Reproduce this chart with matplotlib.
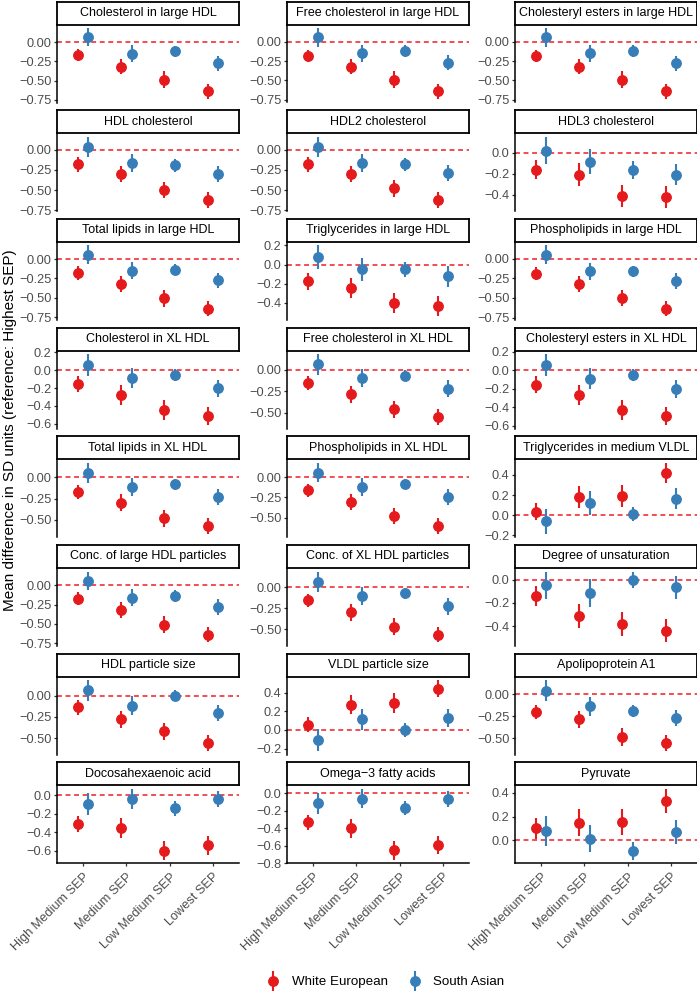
import matplotlib
matplotlib.use("Agg")
import matplotlib.pyplot as plt
import numpy as np
from matplotlib.lines import Line2D
from matplotlib.legend_handler import HandlerTuple
from matplotlib.ticker import MultipleLocator, FuncFormatter

plt.rcParams['font.family'] = ['Liberation Sans', 'DejaVu Sans']

categories = ["High Medium SEP", "Medium SEP", "Low Medium SEP", "Lowest SEP"]
groups = ["White European", "South Asian"]

titles = [
    "Cholesterol in large HDL", "Free cholesterol in large HDL", "Cholesteryl esters in large HDL",
    "HDL cholesterol", "HDL2 cholesterol", "HDL3 cholesterol",
    "Total lipids in large HDL", "Triglycerides in large HDL", "Phospholipids in large HDL",
    "Cholesterol in XL HDL", "Free cholesterol in XL HDL", "Cholesteryl esters in XL HDL",
    "Total lipids in XL HDL", "Phospholipids in XL HDL", "Triglycerides in medium VLDL",
    "Conc. of large HDL particles", "Conc. of XL HDL particles", "Degree of unsaturation",
    "HDL particle size", "VLDL particle size", "Apolipoprotein A1",
    "Docosahexaenoic acid", "Omega\u22123 fatty acids", "Pyruvate",
]

white_european_mean = [
    [-0.17, -0.32, -0.49, -0.64], [-0.18, -0.32, -0.49, -0.64], [-0.18, -0.32, -0.49, -0.64],
    [-0.18, -0.30, -0.50, -0.62], [-0.18, -0.30, -0.48, -0.62], [-0.16, -0.21, -0.41, -0.42],
    [-0.185, -0.32, -0.505, -0.64], [-0.175, -0.245, -0.40, -0.435], [-0.19, -0.32, -0.505, -0.64],
    [-0.15, -0.275, -0.445, -0.515], [-0.155, -0.285, -0.46, -0.55], [-0.155, -0.265, -0.43, -0.495],
    [-0.175, -0.30, -0.48, -0.57], [-0.16, -0.31, -0.48, -0.605], [0.035, 0.18, 0.19, 0.42],
    [-0.17, -0.32, -0.51, -0.64], [-0.155, -0.30, -0.47, -0.565], [-0.14, -0.31, -0.38, -0.44],
    [-0.137, -0.275, -0.42, -0.56], [0.058, 0.27, 0.29, 0.443], [-0.20, -0.287, -0.485, -0.558],
    [-0.31, -0.355, -0.60, -0.543], [-0.33, -0.40, -0.65, -0.593], [0.10, 0.15, 0.157, 0.333],
]
white_european_ci = [
    [0.08, 0.10, 0.11, 0.10], [0.08, 0.10, 0.11, 0.10], [0.08, 0.10, 0.11, 0.10],
    [0.09, 0.105, 0.105, 0.10], [0.09, 0.105, 0.105, 0.10], [0.09, 0.11, 0.105, 0.10],
    [0.09, 0.10, 0.11, 0.10], [0.09, 0.105, 0.105, 0.105], [0.08, 0.10, 0.10, 0.095],
    [0.09, 0.11, 0.11, 0.10], [0.08, 0.10, 0.10, 0.095], [0.09, 0.11, 0.11, 0.10],
    [0.08, 0.10, 0.10, 0.095], [0.08, 0.10, 0.10, 0.095], [0.085, 0.105, 0.105, 0.10],
    [0.08, 0.10, 0.11, 0.10], [0.08, 0.10, 0.10, 0.095], [0.085, 0.105, 0.105, 0.10],
    [0.085, 0.10, 0.10, 0.095], [0.085, 0.10, 0.105, 0.09], [0.08, 0.10, 0.10, 0.09],
    [0.09, 0.11, 0.10, 0.10], [0.085, 0.11, 0.11, 0.10], [0.09, 0.11, 0.11, 0.10],
]
south_asian_mean = [
    [0.065, -0.15, -0.12, -0.275], [0.06, -0.15, -0.12, -0.27], [0.06, -0.15, -0.12, -0.28],
    [0.04, -0.16, -0.19, -0.30], [0.04, -0.16, -0.18, -0.29], [0.02, -0.085, -0.165, -0.21],
    [0.056, -0.15, -0.14, -0.275], [0.075, -0.05, -0.05, -0.12], [0.05, -0.16, -0.16, -0.28],
    [0.06, -0.09, -0.055, -0.205], [0.065, -0.095, -0.07, -0.22], [0.055, -0.09, -0.055, -0.205],
    [0.05, -0.115, -0.08, -0.235], [0.06, -0.12, -0.08, -0.24], [-0.06, 0.12, 0.015, 0.165],
    [0.06, -0.157, -0.14, -0.28], [0.07, -0.105, -0.073, -0.228], [-0.05, -0.115, 0.0, -0.065],
    [0.065, -0.117, 0.0, -0.20], [-0.107, 0.113, 0.0, 0.13], [0.04, -0.136, -0.194, -0.267],
    [-0.093, -0.04, -0.14, -0.04], [-0.114, -0.06, -0.165, -0.067], [0.078, 0.015, -0.09, 0.067],
]
south_asian_ci = [
    [0.12, 0.11, 0.075, 0.10], [0.12, 0.11, 0.075, 0.10], [0.12, 0.11, 0.075, 0.10],
    [0.125, 0.11, 0.08, 0.10], [0.125, 0.11, 0.08, 0.10], [0.13, 0.115, 0.085, 0.10],
    [0.12, 0.11, 0.07, 0.10], [0.125, 0.12, 0.08, 0.11], [0.12, 0.11, 0.07, 0.10],
    [0.12, 0.11, 0.065, 0.10], [0.12, 0.11, 0.065, 0.10], [0.12, 0.11, 0.065, 0.10],
    [0.12, 0.11, 0.065, 0.095], [0.12, 0.11, 0.065, 0.10], [0.125, 0.12, 0.07, 0.10],
    [0.12, 0.11, 0.075, 0.10], [0.12, 0.11, 0.065, 0.10], [0.12, 0.12, 0.07, 0.10],
    [0.12, 0.11, 0.065, 0.095], [0.12, 0.11, 0.07, 0.10], [0.12, 0.11, 0.07, 0.09],
    [0.12, 0.11, 0.08, 0.09], [0.12, 0.11, 0.08, 0.09], [0.125, 0.115, 0.075, 0.10],
]
y_tick_step = [
    0.25, 0.25, 0.25,
    0.25, 0.25, 0.2,
    0.25, 0.2, 0.25,
    0.2, 0.25, 0.2,
    0.25, 0.25, 0.2,
    0.25, 0.25, 0.2,
    0.25, 0.2, 0.25,
    0.2, 0.2, 0.2,
]

colors = {"White European": "#E41A1C", "South Asian": "#377EB8"}
ref_color = "#EE1C25"

W, H = 697, 992
fig = plt.figure(figsize=(W / 100, H / 100), dpi=100)

col_left = [57, 287, 515]
panel_w = 182
top0 = 24.5
period = 108.7
panel_h = 78
strip_h = 23
dodge = 0.125
x = np.arange(1, len(categories) + 1)

def fmt_factory(step):
    dec = 2 if step == 0.25 else 1
    def f(v, pos):
        s = f"{v:.{dec}f}"
        if s.startswith("-") and float(s) == 0:
            s = s[1:]
        return s.replace("-", "\u2212")
    return FuncFormatter(f)

n_rows = 8
for i, title in enumerate(titles):
    r, c = divmod(i, 3)
    top = top0 + r * period
    ax = fig.add_axes([col_left[c] / W, 1 - (top + panel_h) / H, panel_w / W, panel_h / H])
    sax = fig.add_axes([col_left[c] / W, 1 - top / H, panel_w / W, strip_h / H])

    # strip
    sax.set_xticks([]); sax.set_yticks([])
    for sp in sax.spines.values():
        sp.set_linewidth(1.3); sp.set_color("black")
    sax.text(0.5, 0.5, title, ha="center", va="center", fontsize=9, color="black",
             transform=sax.transAxes)

    we_m = np.array(white_european_mean[i]); we_e = np.array(white_european_ci[i])
    sa_m = np.array(south_asian_mean[i]); sa_e = np.array(south_asian_ci[i])

    ax.axhline(0, color=ref_color, ls=(0, (3.2, 2.4)), lw=1.1, zorder=1)
    for m, e, off, g in [(we_m, we_e, -dodge, groups[0]), (sa_m, sa_e, dodge, groups[1])]:
        ax.errorbar(x + off, m, yerr=e, fmt="o", color=colors[g], ms=6.8, elinewidth=1.5,
                    capsize=0, zorder=3)

    lo = min((we_m - we_e).min(), (sa_m - sa_e).min(), 0)
    hi = max((we_m + we_e).max(), (sa_m + sa_e).max(), 0)
    pad = 0.05 * (hi - lo)
    ax.set_ylim(lo - pad, hi + pad)
    ax.set_xlim(0.4, len(categories) + 0.6)
    ax.yaxis.set_major_locator(MultipleLocator(y_tick_step[i]))
    ax.yaxis.set_major_formatter(fmt_factory(y_tick_step[i]))
    ax.spines["top"].set_visible(False)
    ax.spines["right"].set_visible(False)
    ax.spines["left"].set_linewidth(1.1)
    ax.tick_params(axis="y", length=2.5, width=0.9, color="#333333", labelsize=9.2,
                   labelcolor="#4D4D4D", pad=1.5)
    ax.set_xticks(x)
    if r == n_rows - 1:
        ax.spines["bottom"].set_linewidth(1.1)
        ax.set_xticklabels(categories, rotation=45, ha="right", rotation_mode="anchor",
                           fontsize=9.2, color="#4D4D4D")
        ax.tick_params(axis="x", length=2.5, width=0.9, color="#333333", pad=3)
    else:
        ax.spines["bottom"].set_visible(False)
        ax.tick_params(axis="x", length=0, labelbottom=False)

fig.text(10 / W, 1 - 430 / H, "Mean difference in SD units (reference: Highest SEP)",
         rotation=90, ha="center", va="center", fontsize=11)

handles = []
for g in groups:
    pt = Line2D([], [], marker="o", color=colors[g], ms=6.8, ls="none")
    bar = Line2D([], [], marker="|", color=colors[g], ms=14, mew=1.5, ls="none")
    handles.append((bar, pt))
fig.legend(handles, groups, handler_map={tuple: HandlerTuple(ndivide=1)},
           loc="center", bbox_to_anchor=(385 / W, 1 - 982 / H), ncol=2, frameon=False,
           fontsize=9.6, handlelength=1.2, handletextpad=0.8, columnspacing=1.4)

fig.savefig("out.png", dpi=100)
